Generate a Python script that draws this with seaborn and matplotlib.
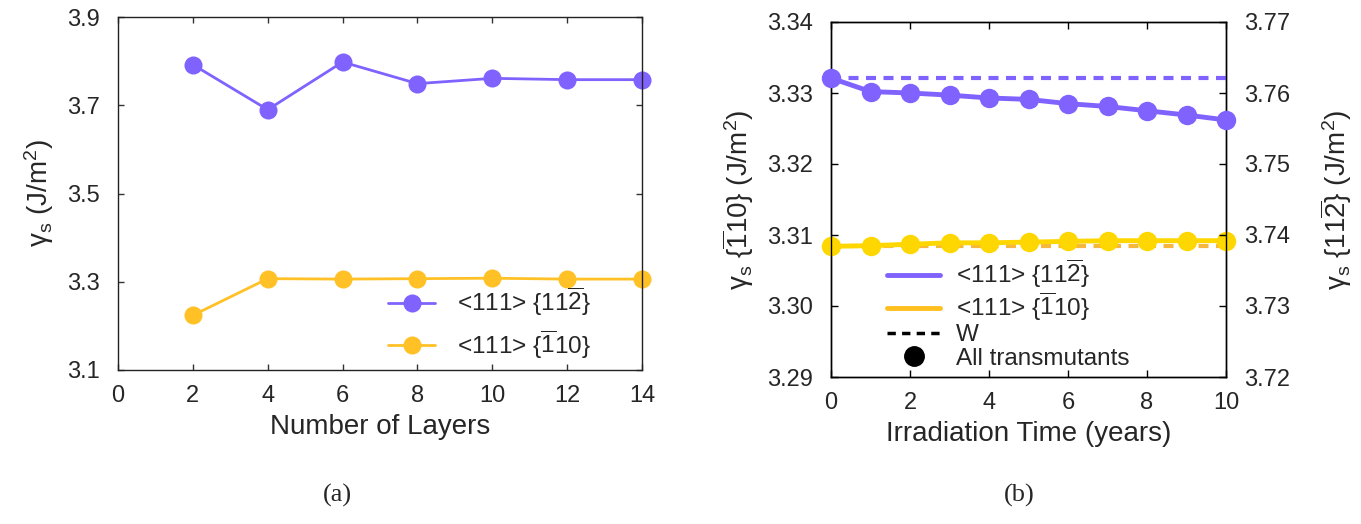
import matplotlib
matplotlib.use("Agg")
import matplotlib.pyplot as plt
from matplotlib.lines import Line2D
import seaborn as sns
import pandas as pd

# ---- data ----
layers = [2, 4, 6, 8, 10, 12, 14]
g112_layers = [3.792, 3.690, 3.798, 3.749, 3.761, 3.758, 3.758]
g110_layers = [3.224, 3.307, 3.306, 3.307, 3.308, 3.306, 3.306]

years = [0, 1, 2, 3, 4, 5, 6, 7, 8, 9, 10]
g112_time = [3.7621, 3.7602, 3.7600, 3.7597, 3.7593, 3.7591, 3.7585, 3.7581, 3.7575, 3.7569, 3.7562]
g110_time = [3.3084, 3.3085, 3.3087, 3.3089, 3.3089, 3.3090, 3.3091, 3.3092, 3.3092, 3.3092, 3.3092]
w112 = 3.7621
w110 = 3.3084

lab112 = r"<111> {11$\overline{2}$}"
lab110 = r"<111> {$\overline{1}$10}"

sns.set_style("ticks")
plt.rcParams["font.family"] = ["Liberation Sans", "DejaVu Sans"]
plt.rcParams["mathtext.fontset"] = "custom"
plt.rcParams["mathtext.rm"] = "Liberation Sans"
plt.rcParams["mathtext.it"] = "Liberation Sans"
plt.rcParams["mathtext.bf"] = "Liberation Sans"

PURPLE = "#8062ff"
GOLD_L = "#ffc125"
GOLD_R = "#ffd700"
ORANGE_D = "#f6b73c"

W, H = 1361, 524
fig = plt.figure(figsize=(W / 100, H / 100), dpi=100)

def rect(x0, y0, x1, y1):
    return [x0 / W, (H - y1) / H, (x1 - x0) / W, (y1 - y0) / H]

TICK_FS = 17
LAB_FS = 20
LEG_FS = 17.5

# ---- panel (a) ----
AX_A = (118, 17, 642, 370)
axa = fig.add_axes(rect(*AX_A))
dfa = pd.DataFrame({"layers": layers, "g112": g112_layers, "g110": g110_layers})
sns.lineplot(data=dfa, x="layers", y="g112", ax=axa, color=PURPLE, lw=2, marker="o",
             markersize=13, markeredgewidth=0, label=lab112, clip_on=False)
sns.lineplot(data=dfa, x="layers", y="g110", ax=axa, color=GOLD_L, lw=2, marker="o",
             markersize=13, markeredgewidth=0, label=lab110, clip_on=False)
axa.set_xlim(0, 14)
axa.set_ylim(3.1, 3.9)
axa.set_xticks(range(0, 15, 2))
axa.set_yticks([3.1, 3.3, 3.5, 3.7, 3.9])
axa.set_yticklabels(["3.1", "3.3", "3.5", "3.7", "3.9"])
axa.tick_params(direction="in", length=4, width=1, top=True, right=True,
                labelsize=TICK_FS, pad=11, color="#333333")
axa.tick_params(axis="y", pad=13)
for s in axa.spines.values():
    s.set_visible(True)
    s.set_color("#222222")
    s.set_linewidth(1)
axa.set_xlabel("Number of Layers", fontsize=LAB_FS, labelpad=5)
axa.set_ylabel(r"γ$_\mathrm{s}$ (J/m$^2$)", fontsize=LAB_FS, labelpad=8)
wa = AX_A[2] - AX_A[0]
ha = AX_A[3] - AX_A[1]
axa.legend(loc="upper left",
           bbox_to_anchor=((388 - AX_A[0]) / wa, (AX_A[3] - 286) / ha),
           frameon=False, fontsize=LEG_FS, handlelength=1.95, handletextpad=0.9,
           labelspacing=0.45, borderaxespad=0, borderpad=0)

# ---- panel (b) ----
AX_B = (831, 22, 1226, 377)
axb = fig.add_axes(rect(*AX_B))
axb2 = axb.twinx()
dfb = pd.DataFrame({"years": years, "g112": g112_time, "g110": g110_time})
axb.axhline(w110, color=ORANGE_D, lw=3, dashes=(2.4, 1.8), zorder=1)
sns.lineplot(data=dfb, x="years", y="g110", ax=axb, color=GOLD_R, lw=3.5, marker="o",
             markersize=14, markeredgewidth=0, clip_on=False, zorder=3)
axb2.axhline(w112, color=PURPLE, lw=3, dashes=(2.4, 1.8), zorder=1)
sns.lineplot(data=dfb, x="years", y="g112", ax=axb2, color=PURPLE, lw=3.5, marker="o",
             markersize=14, markeredgewidth=0, clip_on=False, zorder=3)
axb.set_xlim(0, 10)
axb.set_ylim(3.29, 3.34)
axb2.set_ylim(3.72, 3.77)
axb.set_xticks(range(0, 11, 2))
axb.set_yticks([3.29, 3.30, 3.31, 3.32, 3.33, 3.34])
axb.set_yticklabels(["3.29", "3.30", "3.31", "3.32", "3.33", "3.34"])
axb2.set_yticks([3.72, 3.73, 3.74, 3.75, 3.76, 3.77])
axb2.set_yticklabels(["3.72", "3.73", "3.74", "3.75", "3.76", "3.77"])
axb.tick_params(direction="in", length=5, width=1, top=True, right=False,
                labelsize=TICK_FS, pad=11, color="black")
axb.tick_params(axis="y", pad=13)
axb2.tick_params(direction="in", length=5, width=1, labelsize=TICK_FS, pad=13, color="black")
for a in (axb, axb2):
    for s in a.spines.values():
        s.set_visible(True)
        s.set_color("black")
        s.set_linewidth(1)
axb.set_xlabel("Irradiation Time (years)", fontsize=LAB_FS, labelpad=5)
axb.set_ylabel(r"γ$_\mathrm{s}$ {$\overline{1}$10} (J/m$^2$)", fontsize=LAB_FS, labelpad=8)
axb2.set_ylabel(r"γ$_\mathrm{s}$ {11$\overline{2}$} (J/m$^2$)", fontsize=LAB_FS,
                rotation=90, labelpad=20)
if axb.get_legend() is not None:
    axb.get_legend().remove()
if axb2.get_legend() is not None:
    axb2.get_legend().remove()
handles = [
    Line2D([], [], color=PURPLE, lw=3.5),
    Line2D([], [], color="#ffbf1f", lw=3.5),
    Line2D([], [], color="black", lw=2.5, dashes=(2.4, 1.8)),
    Line2D([], [], color="black", lw=0, marker="o", markersize=14),
]
labels = [lab112, lab110, "W", "All transmutants"]
wb = AX_B[2] - AX_B[0]
hb = AX_B[3] - AX_B[1]
axb2.legend(handles, labels, loc="upper left",
            bbox_to_anchor=((887 - AX_B[0]) / wb, (AX_B[3] - 258) / hb),
            frameon=False, fontsize=LEG_FS, handlelength=2.2, handletextpad=0.65,
            labelspacing=0.05, borderaxespad=0, borderpad=0)

fig.text(337 / W, 1 - 495 / H, "(a)", family="Liberation Serif", fontsize=19,
         ha="center", va="center")
fig.text(1019 / W, 1 - 495 / H, "(b)", family="Liberation Serif", fontsize=19,
         ha="center", va="center")

fig.savefig("out.png", dpi=100)
